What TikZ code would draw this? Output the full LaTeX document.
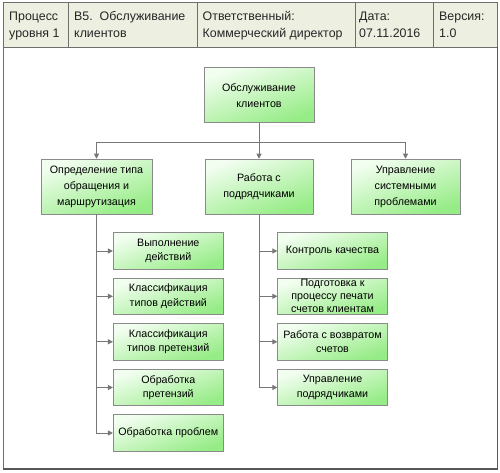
\documentclass[tikz,border=0pt]{standalone}
\usepackage{fontspec}
\setmainfont{Liberation Sans}
\usetikzlibrary{arrows.meta,calc}
\definecolor{hdrfill}{HTML}{EDEFE1}
\definecolor{framegray}{HTML}{6E6E6E}
\definecolor{boxline}{HTML}{8A8A8A}
\definecolor{linegray}{HTML}{777777}
\definecolor{gtop}{HTML}{F2FEF0}
\definecolor{gbot}{HTML}{96EC86}
\begin{document}
\begin{tikzpicture}[x=1pt,y=-1pt,
  procbox/.style={draw=boxline, line width=0.7pt, shade, top color=gtop, bottom color=gbot, shading angle=20,
    minimum width=#1, minimum height=36.5pt, inner sep=0pt, align=center,
    font=\fontsize{10.7}{14.5}\selectfont},
  procbox/.default=110pt,
  bigbox/.style={procbox=#1, minimum height=55pt, font=\fontsize{10.7}{16}\selectfont},
  hdrtext/.style={anchor=base west, align=left, inner sep=0pt, font=\fontsize{12.4}{16.5}\selectfont, text=black!85},
  conn/.style={draw=linegray, line width=0.9pt, -{Triangle[width=5pt,length=5pt]}}
]
\useasboundingbox (0,0) rectangle (500,473);
% frame
\fill[white] (3,2) rectangle (497,469);
\fill[hdrfill] (3,2) rectangle (497,47);
\draw[framegray, line width=0.8pt] (3,2) rectangle (497,469);
\draw[framegray, line width=0.8pt] (3,47) -- (497,47);
\draw[framegray!80!black, line width=1.8pt] (3,469) -- (497.5,469) -- (497.5,47);
\foreach \xx in {68,197,355,433} \draw[framegray, line width=0.8pt] (\xx,2) -- (\xx,47);
% header texts (anchor at baseline of the second line)
\node[hdrtext] (h1) at (9,37.5) {Процесс\\уровня 1};
\node[hdrtext] (h2) at (74,37.5) {В5.~~Обслуживание\\клиентов};
\node[hdrtext] (h3) at (202.5,37.5) {Ответственный:\\Коммерческий директор};
\node[hdrtext] (h4) at (359,37.5) {Дата:\\07.11.2016};
\node[hdrtext] (h5) at (439,37.5) {Версия:\\1.0};
% level 1
\node[bigbox=110pt] (top) at (259,95.3) {Обслуживание\\клиентов};
% level 2
\node[bigbox=111pt] (a) at (96.5,186.6) {Определение типа\\обращения и\\маршрутизация};
\node[bigbox=108pt] (b) at (259,186.6) {Работа с\\подрядчиками};
\node[bigbox=109pt] (c) at (405.5,186.6) {Управление\\системными\\проблемами};
% left children
\node[procbox] (a1) at (168.3,251) {Выполнение\\действий};
\node[procbox] (a2) at (168.3,296.3) {Классификация\\типов действий};
\node[procbox] (a3) at (168.3,341.8) {Классификация\\типов претензий};
\node[procbox] (a4) at (168.3,387.5) {Обработка\\претензий};
\node[procbox] (a5) at (168.3,433) {Обработка проблем};
% right children
\node[procbox=109.6pt] (b1) at (332.5,251) {Контроль качества};
\node[procbox=109.6pt, font=\fontsize{10.7}{13}\selectfont] (b2) at (332.5,296.3) {Подготовка к\\процессу печати\\счетов клиентам};
\node[procbox=109.6pt] (b3) at (332.5,341.8) {Работа с возвратом\\счетов};
\node[procbox=109.6pt] (b4) at (332.5,387.5) {Управление\\подрядчиками};
% connectors
\coordinate (split) at ($(top.south)+(0,19)$);
\draw[conn] (top.south) -- (split) -| (a.north);
\draw[conn] (top.south) -- (b.north);
\draw[conn] (top.south) -- (split) -| (c.north);
\foreach \n in {a1,a2,a3,a4,a5} \draw[conn] (a.south) |- (\n.west);
\foreach \n in {b1,b2,b3,b4} \draw[conn] (b.south) |- (\n.west);
\end{tikzpicture}
\end{document}
